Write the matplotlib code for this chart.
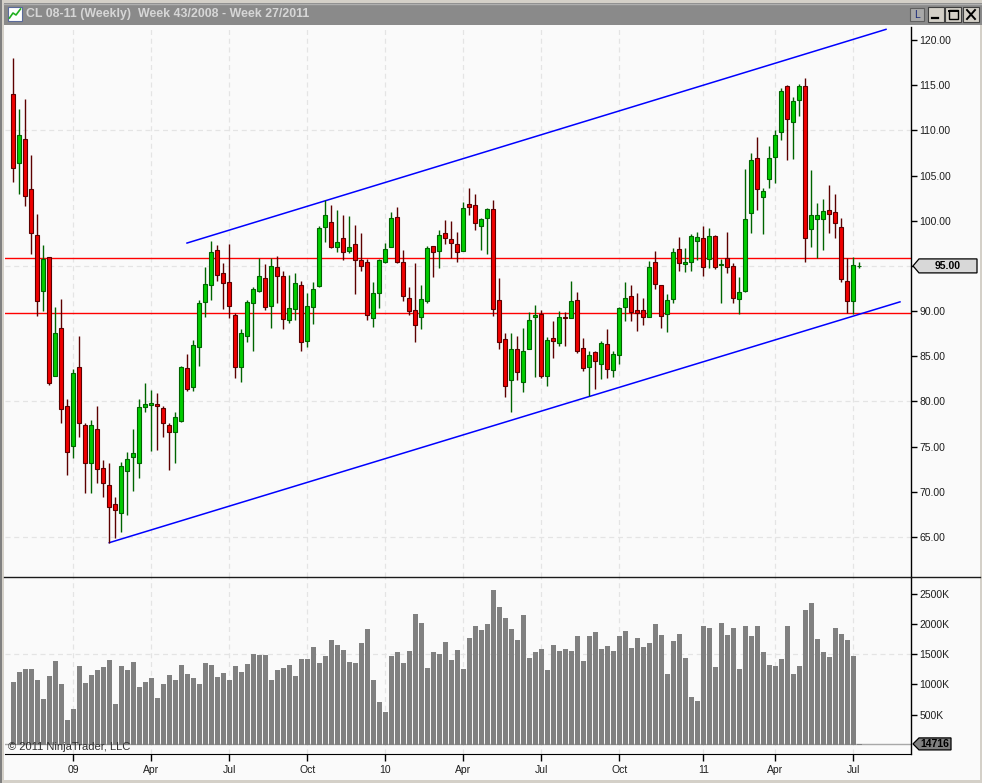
import numpy as np
import pandas as pd
import matplotlib
matplotlib.use('Agg')
import matplotlib.pyplot as plt
from matplotlib.patches import Rectangle, Polygon
from matplotlib.lines import Line2D

plt.rcParams['font.family'] = ['Liberation Sans', 'DejaVu Sans']

W, H = 982, 783

# ---------------- data ----------------
title = "CL 08-11 (Weekly)  Week 43/2008 - Week 27/2011"
first_week_end = "2008-10-24"

opens = [113.98, 106.42, 108.99, 103.47, 98.37, 92.25, 95.94, 82.84, 88.08, 79.55,
         75.09, 83.76, 77.34, 73.24, 76.90, 72.58, 70.73, 68.63, 67.67, 72.32,
         73.80, 73.24, 79.41, 79.56, 79.71, 79.23, 77.35, 76.57, 77.79, 83.66,
         81.63, 85.98, 90.96, 92.85, 96.72, 94.18, 93.18, 89.53, 83.77, 87.27,
         90.93, 92.26, 93.62, 90.60, 94.84, 93.84, 89.01, 90.19, 92.85, 86.72,
         90.41, 92.81, 99.27, 99.82, 97.13, 98.05, 96.68, 97.39, 95.61, 95.39,
         89.19, 91.96, 95.46, 97.13, 100.37, 95.39, 91.41, 90.12, 89.38, 91.15,
         97.20, 96.68, 98.60, 97.98, 97.39, 96.68, 101.81, 101.70, 99.45, 100.26,
         101.26, 91.19, 86.87, 82.33, 85.80, 82.14, 85.76, 89.38, 89.67, 82.77,
         86.98, 86.43, 89.30, 89.19, 91.21, 85.90, 83.83, 85.42, 84.13, 86.31,
         83.46, 85.16, 90.40, 91.62, 90.07, 90.07, 89.37, 95.38, 92.84, 89.63,
         91.29, 96.82, 95.16, 95.46, 97.78, 98.04, 95.72, 98.27, 95.06, 95.84,
         94.95, 91.30, 92.26, 100.82, 106.91, 102.59, 104.58, 107.02, 109.78, 114.88,
         110.96, 113.33, 114.88, 99.05, 100.22, 100.15, 101.15, 100.93, 99.27, 93.33,
         91.15, 94.95]
highs = [117.97, 112.32, 113.43, 107.23, 100.73, 97.30, 95.94, 90.40, 91.32, 80.22,
         83.54, 87.23, 77.56, 77.93, 79.48, 73.50, 73.24, 69.44, 73.32, 74.42,
         76.97, 80.22, 82.06, 81.26, 80.96, 79.49, 77.57, 78.79, 83.92, 85.21,
         86.80, 91.22, 94.84, 97.75, 97.27, 95.36, 97.42, 89.75, 87.98, 91.22,
         92.70, 95.84, 95.17, 95.84, 96.09, 94.43, 93.99, 94.18, 93.36, 91.96,
         93.25, 99.41, 102.29, 101.74, 101.19, 100.63, 100.52, 99.53, 98.60, 95.72,
         93.18, 95.72, 97.50, 101.00, 101.56, 96.76, 92.70, 95.28, 92.88, 97.20,
         97.20, 98.97, 100.08, 99.97, 98.71, 102.03, 103.58, 102.92, 100.34, 101.44,
         102.29, 93.62, 87.53, 87.53, 87.24, 88.09, 89.93, 90.67, 90.11, 87.16,
         88.90, 90.00, 89.93, 93.32, 92.14, 87.04, 85.57, 85.57, 86.71, 88.00,
         85.61, 90.40, 93.24, 92.87, 91.95, 91.47, 95.57, 96.64, 92.87, 91.88,
         96.93, 98.23, 97.01, 98.48, 98.78, 99.41, 99.16, 98.42, 95.72, 98.75,
         95.28, 93.81, 105.72, 107.46, 109.27, 103.66, 108.27, 110.04, 114.73, 115.02,
         113.73, 115.10, 115.76, 105.61, 101.92, 102.40, 103.95, 102.96, 100.34, 95.84,
         95.95, 95.47]
lows = [104.31, 102.95, 101.66, 96.31, 89.48, 90.03, 81.77, 82.84, 77.64, 71.84,
        73.69, 76.09, 69.89, 69.89, 70.99, 69.44, 64.35, 64.94, 65.57, 67.41,
        70.11, 71.55, 78.85, 74.54, 74.62, 76.09, 72.40, 73.14, 77.75, 81.15,
        81.15, 83.92, 89.38, 91.22, 93.36, 90.26, 89.27, 82.63, 82.18, 86.61,
        85.61, 92.07, 90.12, 88.16, 90.85, 88.05, 88.64, 89.01, 85.61, 85.98,
        88.57, 92.63, 97.68, 96.94, 96.57, 95.65, 96.39, 91.89, 94.47, 89.01,
        88.27, 90.30, 95.36, 97.13, 95.28, 91.15, 89.56, 86.61, 87.98, 90.93,
        93.81, 94.80, 97.39, 95.91, 95.39, 96.68, 100.63, 98.97, 96.76, 96.31,
        89.49, 85.80, 80.52, 78.86, 82.37, 81.07, 85.76, 82.73, 82.55, 81.74,
        84.84, 86.17, 86.17, 89.19, 85.31, 83.39, 80.59, 81.33, 82.43, 82.58,
        82.65, 84.13, 88.93, 88.93, 87.82, 88.41, 89.30, 92.43, 88.08, 87.71,
        90.84, 94.46, 94.28, 94.46, 95.64, 93.91, 94.80, 94.65, 90.93, 94.25,
        90.93, 89.64, 92.07, 98.60, 101.19, 98.49, 103.58, 104.21, 108.93, 106.72,
        106.83, 111.63, 95.47, 97.13, 95.91, 96.76, 98.60, 98.12, 93.25, 89.75,
        89.67, 94.80]
closes = [105.79, 109.44, 102.73, 98.67, 91.14, 95.72, 82.06, 87.52, 79.11, 74.42,
          83.10, 77.56, 73.24, 77.34, 72.47, 70.99, 68.34, 68.04, 72.84, 73.58,
          74.24, 79.33, 79.70, 79.82, 79.53, 77.57, 76.65, 78.31, 83.77, 81.41,
          86.20, 90.85, 92.96, 96.50, 93.95, 93.07, 90.60, 83.84, 87.53, 90.96,
          92.44, 93.84, 90.41, 94.95, 93.84, 89.08, 90.30, 93.07, 86.61, 90.52,
          92.44, 99.16, 100.63, 97.13, 97.61, 96.50, 97.05, 95.61, 95.02, 89.53,
          91.96, 95.61, 96.91, 100.26, 95.46, 91.70, 90.04, 88.42, 91.30, 96.94,
          96.50, 98.38, 98.05, 97.50, 96.50, 101.41, 101.48, 99.71, 100.15, 101.26,
          90.19, 86.61, 81.74, 85.80, 83.22, 85.58, 88.97, 89.52, 82.77, 86.79,
          86.65, 89.30, 89.23, 91.10, 85.61, 83.72, 85.09, 84.53, 86.42, 83.61,
          85.20, 90.29, 91.40, 89.92, 89.74, 89.37, 94.83, 92.95, 89.41, 91.18,
          96.56, 95.27, 95.38, 98.30, 98.15, 94.83, 98.27, 94.91, 95.17, 94.84,
          91.41, 92.07, 100.15, 106.68, 103.47, 103.33, 106.91, 109.45, 114.36, 111.22,
          113.25, 114.88, 98.12, 100.63, 100.59, 101.07, 100.71, 99.71, 93.51, 91.15,
          95.10, 95.00]
volume_k = [1033, 1200, 1250, 1250, 1067, 767, 1133, 1383, 1000, 417,
            600, 1300, 1017, 1150, 1233, 1283, 1400, 683, 1300, 1233,
            1367, 950, 1033, 1100, 783, 1000, 1150, 1067, 1317, 1167,
            1100, 1000, 1350, 1317, 1117, 1183, 1067, 1300, 1200, 1333,
            1500, 1483, 1483, 1067, 1233, 1267, 1317, 1133, 1417, 1417,
            1617, 1350, 1467, 1733, 1650, 1567, 1367, 1350, 1683, 1917,
            1067, 717, 550, 1467, 1533, 1350, 1550, 2167, 2017, 1267,
            1533, 1500, 1700, 1400, 1567, 1250, 1767, 1967, 1900, 2000,
            2567, 2283, 2100, 1917, 1733, 2150, 1433, 1533, 1583, 1233,
            1650, 1550, 1583, 1550, 1800, 1383, 1800, 1867, 1583, 1633,
            1550, 1800, 1883, 1600, 1767, 1617, 1683, 2000, 1817, 1167,
            1717, 1833, 1433, 800, 733, 1967, 1933, 1283, 2017, 1817,
            1933, 1250, 1967, 1800, 1967, 1533, 1317, 1300, 1417, 1967,
            1167, 1300, 2233, 2350, 1750, 1533, 1450, 1933, 1833, 1733,
            1467, 14.716]
last_volume_label = "14716"

# drawing objects (bar index, price)
upper_channel_x = [28.95, 145.45]
upper_channel_y = [97.53, 121.18]
lower_channel_x = [16.0, 147.78]
lower_channel_y = [64.37, 91.02]
horizontal_levels = [95.83, 89.74]

price_ticks = list(range(65, 121, 5))
price_grid = [65, 80, 95, 110]
volume_ticks = [500, 1000, 1500, 2000, 2500]
volume_grid = [1500]

# ---------------- figure ----------------
fig = plt.figure(figsize=(W / 100, H / 100), dpi=100, facecolor='#d4d0c8')


def prect(x0, y0, x1, y1, z=-5, **kw):
    r = Rectangle((x0 / W, 1 - y1 / H), (x1 - x0) / W, (y1 - y0) / H,
                  transform=fig.transFigure, zorder=z, **kw)
    fig.patches.append(r)
    return r


def pline(x0, y0, x1, y1, z=5, **kw):
    fig.lines.append(Line2D([x0 / W, x1 / W], [1 - y0 / H, 1 - y1 / H],
                            transform=fig.transFigure, zorder=z, **kw))


# window frame and chart background
prect(0, 0, W, H, fc='#d4d0c8', ec='none', z=-10)
prect(0, 0, 2, H, fc='#808080', ec='none', z=-9)
prect(4, 25, 980, 780, fc='#fafafa', ec='none', z=-9)
# title bar
prect(4, 3, W, 25, fc='#8a8a8a', ec='none', z=-8)
pline(4, 3.5, W, 3.5, color='#b0b0b0', lw=1, z=-7)
prect(8, 7, 22, 21, fc='white', ec='#5a6a9a', lw=0.8, z=-7)
fig.lines.append(Line2D([9.5 / W, 13 / W, 16 / W, 20.5 / W],
                        [1 - 18 / H, 1 - 13 / H, 1 - 15 / H, 1 - 9 / H],
                        transform=fig.transFigure, color='#20b020', lw=1.2, zorder=-6))
fig.text(26 / W, 1 - 14.5 / H, title, ha='left', va='center', fontsize=8.9,
         fontweight='bold', color='#d6d6d6')
# title buttons
prect(910, 8, 924, 21, fc='#a8a8a8', ec='#606060', lw=0.8, z=-6)
fig.text(917 / W, 1 - 14.5 / H, 'L', ha='center', va='center', fontsize=7.5, color='#1a2a7a')
for bx0, bx1 in [(928, 944), (945, 961), (963, 979)]:
    prect(bx0, 7, bx1, 22, fc='#d4d0c8', ec='#404040', lw=0.8, z=-6)
pline(932, 18, 938, 18, color='black', lw=1.6, z=-5)
prect(948.5, 9.5, 957.5, 19, fc='none', ec='black', lw=1.0, z=-5)
pline(948.5, 10.5, 957.5, 10.5, color='black', lw=1.4, z=-5)
pline(967, 10, 975, 19, color='black', lw=1.4, z=-5)
pline(967, 19, 975, 10, color='black', lw=1.4, z=-5)

# ---------------- axes ----------------
left_px, right_px = 5, 911
price_top, price_bot = 27, 577
vol_top, vol_bot = 577, 754

ax1 = fig.add_axes([left_px / W, 1 - price_bot / H, (right_px - left_px) / W,
                    (price_bot - price_top) / H])
ax2 = fig.add_axes([left_px / W, 1 - vol_bot / H, (right_px - left_px) / W,
                    (vol_bot - vol_top) / H])
for ax in (ax1, ax2):
    ax.set_facecolor('none')
    for s in ('top', 'left', 'bottom'):
        ax.spines[s].set_visible(False)
    ax.spines['right'].set_color('black')
    ax.spines['right'].set_linewidth(1)
    ax.yaxis.tick_right()
    ax.tick_params(axis='y', direction='out', length=4, width=1, pad=2,
                   labelsize=7.5, labelcolor='#1e1e1e', color='black')

n = len(closes)
idx = np.arange(n)
o = np.array(opens); c = np.array(closes); h = np.array(highs); l = np.array(lows)
dates = pd.date_range(first_week_end, periods=n, freq='7D')

xlim = ((left_px - 13.3) / 6.0, (right_px - 13.3) / 6.0)
ax1.set_xlim(*xlim)
ax2.set_xlim(*xlim)
ax1.set_ylim(60.57, 121.44)
ax2.set_ylim(-152.4, 2780.4)

# month ticks
tick_pos, tick_lab = [], []
for i in range(1, n):
    if dates[i].month != dates[i - 1].month and dates[i].month in (1, 4, 7, 10):
        tick_pos.append(i)
        tick_lab.append(dates[i].strftime('%y') if dates[i].month == 1 else dates[i].strftime('%b'))

grid_kw = dict(color='#e4e4e4', lw=0.9, ls=(0, (4, 3)), zorder=0)
for p in tick_pos:
    ax1.axvline(p, **grid_kw)
    ax2.axvline(p, **grid_kw)
for g in price_grid:
    ax1.axhline(g, **grid_kw)
for g in volume_grid:
    ax2.axhline(g, **grid_kw)

# price axis (the tick label hidden under the last-price marker is left blank)
last_close = closes[-1]
ax1.set_yticks(price_ticks)
ax1.set_yticklabels(['' if abs(v - last_close) < 1.0 else f'{v:.2f}' for v in price_ticks])
ax1.set_xticks([])

# horizontal levels and channel lines
for lv in horizontal_levels:
    ax1.axhline(lv, color='#ff0000', lw=1.0, zorder=1)
ax1.plot(upper_channel_x, upper_channel_y, color='#0000ff', lw=1.1, zorder=2, clip_on=False)
ax1.plot(lower_channel_x, lower_channel_y, color='#0000ff', lw=1.1, zorder=2)

# candles
up = c >= o
fill = np.where(up, '#00cc00', '#f00000')
edge = np.where(up, '#006400', '#5c0000')
ax1.vlines(idx, l, h, colors=edge, lw=1.0, zorder=3)
body_h = np.maximum(np.abs(c - o), 0.06)
ax1.bar(idx, body_h, bottom=np.minimum(o, c), width=0.66, color=fill,
        edgecolor=edge, linewidth=0.8, zorder=4)

# volume
ax2.bar(idx, volume_k, width=0.83, color='#808080', linewidth=0, zorder=3)
ax2.axhline(volume_k[-1], color='#a8a8a8', lw=1.0, zorder=2)
ax2.set_yticks(volume_ticks)
ax2.set_yticklabels([f'{v}K' for v in volume_ticks])
ax2.spines['bottom'].set_visible(True)
ax2.spines['bottom'].set_color('black')
ax2.set_xticks(tick_pos)
ax2.set_xticklabels(tick_lab)
ax2.tick_params(axis='x', direction='out', length=5, width=1, pad=3,
                labelsize=7.5, labelcolor='#1e1e1e', color='black')

# separator between panels
pline(4, 577, 980, 577, color='#1a1a1a', lw=1.0, z=6)

# price / volume markers on the axis
fig.canvas.draw()


def marker(ax, val, text, fc, x0=913, x1=977, hh=7):
    yd = ax.transData.transform((0, val))[1]
    y = H - yd
    pts = [(x0, y), (x0 + 6, y - hh), (x1, y - hh), (x1, y + hh), (x0 + 6, y + hh)]
    poly = Polygon([(px / W, 1 - py / H) for px, py in pts], closed=True,
                   transform=fig.transFigure, fc=fc, ec='black', lw=0.9, zorder=8)
    fig.patches.append(poly)
    fig.text(((x0 + 6 + x1) / 2) / W, 1 - y / H, text, ha='center', va='center',
             fontsize=7.5, fontweight='bold', color='black', zorder=9)


marker(ax1, last_close, f'{last_close:.2f}', '#d8d8d8')
marker(ax2, volume_k[-1], last_volume_label, '#808080', x0=913, x1=951, hh=6)

fig.text(8 / W, 1 - 747 / H, '\u00a9 2011 NinjaTrader, LLC', ha='left', va='center',
         fontsize=8, color='#303030')

fig.savefig('out.png', dpi=100, facecolor=fig.get_facecolor())
